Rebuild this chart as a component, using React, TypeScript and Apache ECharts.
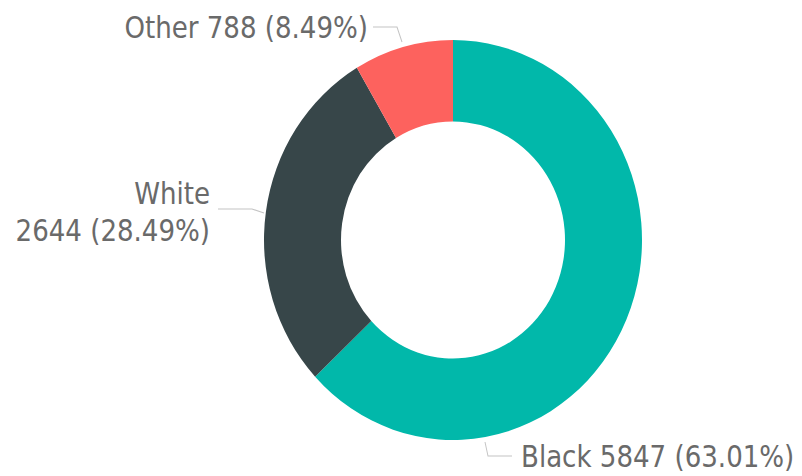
import React, { useEffect, useRef } from "react";
import * as echarts from "echarts";

const categories = ["Black", "White", "Other"];
const values = [5847, 2644, 788];
const colors = ["#01B8AA", "#374649", "#FD625E"];

// vertical stretch of the reference picture (its donut is slightly taller than wide)
const SY = 1.058;
const W = 802;
const FULL_H = 476;
const H = FULL_H / SY;

type LabelPlace = {
  x: number;
  y: number;
  align: "left" | "right";
  lineHeight: number;
  line: number[][];
};

const labelPlaces: Record<string, LabelPlace> = {
  Other: { x: 368, y: 27, align: "right", lineHeight: 30, line: [[402, 42], [397, 27], [373, 27]] },
  White: { x: 210, y: 212, align: "right", lineHeight: 35, line: [[264, 213], [252, 209], [218, 209]] },
  Black: { x: 521, y: 456, align: "left", lineHeight: 29, line: [[485, 442], [488, 456], [512, 456]] },
};

export default function App() {
  const ref = useRef<HTMLDivElement>(null);
  useEffect(() => {
    document.body.style.margin = "0";
    const total = values.reduce((a, b) => a + b, 0);
    const chart = echarts.init(ref.current!, undefined, { renderer: "svg" });
    chart.setOption({
      animation: false,
      backgroundColor: "#ffffff",
      series: [
        {
          type: "pie",
          center: [453, 240 / SY],
          radius: [112, 189],
          startAngle: 90,
          clockwise: true,
          avoidLabelOverlap: false,
          data: categories.map((name, i) => ({
            name,
            value: values[i],
            itemStyle: { color: colors[i] },
            label: { lineHeight: labelPlaces[name].lineHeight },
          })),
          label: {
            show: true,
            position: "outside",
            fontFamily: "'DejaVu Sans Condensed', 'Liberation Sans Narrow', Roboto, sans-serif",
            fontSize: 29,
            color: "#6a6a6a",
            formatter: (p: any) => {
              const pct = ((p.value / total) * 100).toFixed(2);
              return p.name === "White"
                ? `${p.name}\n${p.value} (${pct}%)`
                : `${p.name} ${p.value} (${pct}%)`;
            },
          },
          labelLine: {
            show: true,
            lineStyle: { color: "#c4c4c4", width: 1 },
          },
          labelLayout: (params: any) => {
            const name = categories[params.dataIndex];
            const pl = labelPlaces[name];
            return {
              x: pl.x,
              y: pl.y / SY,
              align: pl.align,
              verticalAlign: "middle",
              labelLinePoints: pl.line.map(([a, b]) => [a, b / SY]),
            };
          },
        },
      ],
    });
    return () => chart.dispose();
  }, []);
  return (
    <div style={{ width: W, height: FULL_H, overflow: "hidden", background: "#fff" }}>
      <div
        style={{
          width: W,
          height: H,
          transform: `scaleY(${SY})`,
          transformOrigin: "0 0",
        }}
      >
        <div ref={ref} style={{ width: W, height: H }} />
      </div>
    </div>
  );
}
